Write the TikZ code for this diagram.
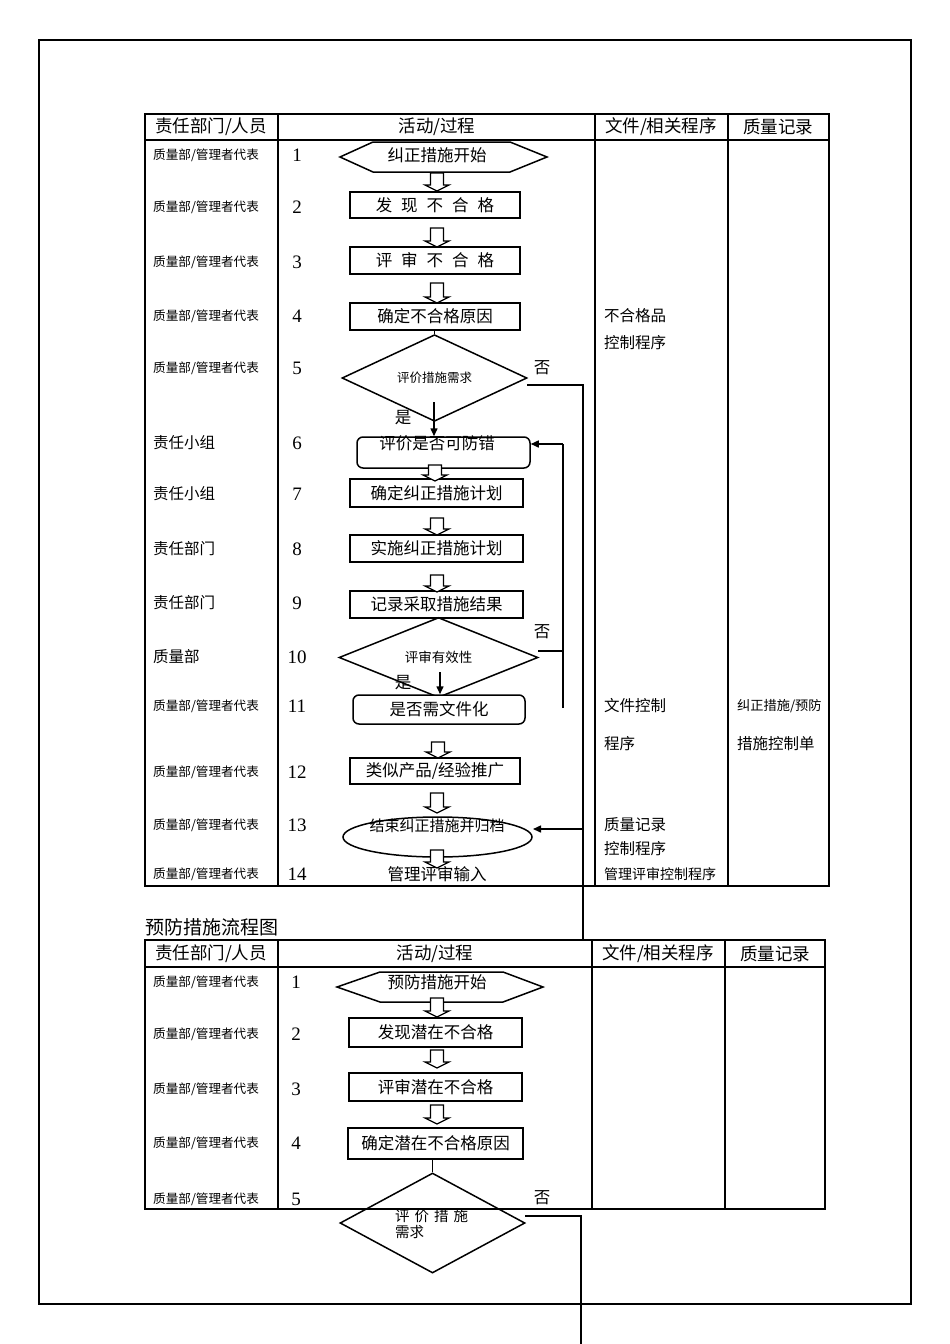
\documentclass[tikz,border=0pt]{standalone}
\usepackage{fontspec}
\newfontfamily\cjk{Noto Sans CJK SC}
\newfontfamily\numfont{Liberation Serif}
\usetikzlibrary{shapes.geometric,arrows.meta}
\newcommand\fsz[1]{\cjk\fontsize{#1}{#1}\selectfont}
\newcommand\barr[3]{\draw[line width=1.2pt,fill=white] (#1-6.5,#2) -- (#1+6.5,#2) -- (#1+6.5,#3-6) -- (#1+12,#3-6) -- (#1,#3) -- (#1-12,#3-6) -- (#1-6.5,#3-6) -- cycle;}
\begin{document}
\begin{tikzpicture}[x=1pt,y=-1pt,
  lw/.style={line width=1.5pt},
  tbl/.style={line width=1.6pt},
  proc/.style={draw,line width=1.5pt,inner sep=0,fill=white,font=\fsz{16.5}},
  rproc/.style={proc,rounded corners=6pt},
  dia/.style={draw,diamond,line width=1.5pt,inner sep=0,font=\fsz{12.5}},
  txt/.style={inner sep=0,font=\fsz{16.5}},
  hd/.style={inner sep=0,font=\fsz{17.5}},
  sm/.style={inner sep=0,anchor=west,font=\fsz{12.6}},
  lg/.style={inner sep=0,anchor=west,font=\fsz{15.5}},
  num/.style={inner sep=0,font=\numfont\fontsize{19}{19}\selectfont},
  arr/.style={lw,-{Triangle[length=8pt,width=7pt]}}]
\useasboundingbox (0,0) rectangle (950,1344);
\fill[white] (0,0) rectangle (950,1344);
\draw[tbl] (39,40) rectangle (911,1304);
% ---------- top table ----------
\draw[tbl] (145,114) rectangle (829,886);
\draw[tbl] (145,140) -- (829,140);
\foreach \x in {278,595,728} \draw[tbl] (\x,114) -- (\x,886);
\node[hd] (h1) at (211,127) {责任部门/人员};
\node[hd] (h2) at (437,127) {活动/过程};
\node[hd] (h3) at (661,127) {文件/相关程序};
\node[hd] (h4) at (778,127) {质量记录};
\foreach \y [count=\i] in {155,207,262,316,368} \node[sm] (La\i) at (153,\y) {质量部/管理者代表};
\foreach \y [count=\i] in {706,772,825,874} \node[sm] (Lb\i) at (153,\y) {质量部/管理者代表};
\node[lg] (Lc1) at (153,443) {责任小组};
\node[lg] (Lc2) at (153,494) {责任小组};
\node[lg] (Lc3) at (153,549) {责任部门};
\node[lg] (Lc4) at (153,603) {责任部门};
\node[lg] (Lc5) at (153,657) {质量部};
\foreach \y/\n in {155/1,207/2,262/3,316/4,368/5,443/6,494/7,549/8,603/9,657/10,706/11,772/12,825/13,874/14}
  \node[num] (N\n) at (297,\y) {\n};
% right columns
\node[lg] (R1) at (604,316) {不合格品};
\node[lg] (R2) at (604,343) {控制程序};
\node[lg] (R3) at (604,706) {文件控制};
\node[lg] (R4) at (604,744) {程序};
\node[inner sep=0,anchor=west,font=\fsz{13.2}] (R5) at (737,706) {纠正措施/预防};
\node[lg] (R6) at (737,744) {措施控制单};
\node[lg] (R7) at (604,825) {质量记录};
\node[lg] (R8) at (604,849) {控制程序};
\node[inner sep=0,anchor=west,font=\fsz{14}] (R9) at (604,874) {管理评审控制程序};
% flow
\draw[lw,fill=white] (340,157) -- (373,142) -- (510,142) -- (547,157) -- (510,172) -- (373,172) -- cycle;
\node[txt] (n1) at (437,155) {纠正措施开始};
\node[proc,minimum width=170pt,minimum height=26pt] (n2) at (435,205) {发\hspace{9pt}现\hspace{9pt}不\hspace{9pt}合\hspace{9pt}格};
\node[proc,minimum width=170pt,minimum height=27pt] (n3) at (435,260.5) {评\hspace{9pt}审\hspace{9pt}不\hspace{9pt}合\hspace{9pt}格};
\node[proc,minimum width=170pt,minimum height=27pt] (n4) at (435,316.5) {确定不合格原因};
\node[dia,minimum width=185pt,minimum height=72pt] (d5) at (434.5,378) {评价措施需求};
\node[rproc,minimum width=173pt,minimum height=31pt] (r6) at (443.5,452.5) {};
\node[txt] (t6) at (437,443) {评价是否可防错};
\node[proc,minimum width=173pt,minimum height=28pt] (n7) at (436.5,493) {确定纠正措施计划};
\node[proc,minimum width=173pt,minimum height=27pt] (n8) at (436.5,548.5) {实施纠正措施计划};
\node[proc,minimum width=173pt,minimum height=27pt] (n9) at (436.5,604.5) {记录采取措施结果};
\node[dia,minimum width=199pt,minimum height=55pt,font=\fsz{13.5}] (d10) at (438.5,657.5) {评审有效性};
\node[rproc,minimum width=172pt,minimum height=29pt] (r11) at (439,709.5) {是否需文件化};
\node[proc,minimum width=170pt,minimum height=26pt] (n12) at (435,771) {类似产品/经验推广};
\node[draw,ellipse,lw,minimum width=189pt,minimum height=40pt,inner sep=0] (e13) at (437.5,837) {};
\node[txt,font=\fsz{15}] (t13) at (437,826) {结束纠正措施并归档};
\barr{437}{173}{191}
\barr{437}{228}{247}
\barr{437}{283}{303}
\barr{435}{465}{481}
\barr{437}{518}{535}
\barr{437}{575}{592}
\barr{438}{742}{758}
\barr{437}{793}{813}
\barr{437}{850}{868}
\node[txt] (t14) at (437,874) {管理评审输入};
\draw[lw] (d5.north |- n4.south) -- (d5.north);
\draw[lw] (d10.north |- n9.south) -- (d10.north);
\coordinate (y5) at (434,402);
\draw[arr] (y5) -- (y5 |- r6.north);
\node[txt] (shi1) at (403,418) {是};
\coordinate (y10) at (440,672);
\draw[arr] (y10) -- (y10 |- r11.north);
\node[txt] (shi2) at (403,683) {是};
\node[txt] (fou1) at (542,368) {否};
\node[txt] (fou2) at (542,632) {否};
% loop back to 6
\coordinate (c1) at (563,651);
\coordinate (c2) at (563,708);
\coordinate (c3) at (563,444);
\draw[lw] (538,651) -- (c1);
\draw[lw] (c2) -- (c3);
\draw[arr] (c3) -- (r6.east |- c3);
% long line to 13 and lower table
\coordinate (j1) at (583,385);
\coordinate (j2) at (583,940);
\coordinate (j3) at (583,829);
\draw[lw] (527,385) -- (j1) -- (j2);
\draw[arr] (j3) -- (533,829);
% ---------- bottom table ----------
\node[inner sep=0,anchor=west,font=\fsz{19}] (title) at (145,927) {预防措施流程图};
\draw[tbl] (145,940) rectangle (825,1209);
\draw[tbl] (145,967) -- (825,967);
\foreach \x in {278,592,725} \draw[tbl] (\x,940) -- (\x,1209);
\node[hd] (g1) at (211,954) {责任部门/人员};
\node[hd] (g2) at (435,954) {活动/过程};
\node[hd] (g3) at (658,954) {文件/相关程序};
\node[hd] (g4) at (775,954) {质量记录};
\foreach \y [count=\i] in {982,1034,1089,1143,1199} {
  \node[sm] (M\i) at (153,\y) {质量部/管理者代表};
  \node[num] (P\i) at (296,\y) {\i};
}
\draw[lw,fill=white] (337,987) -- (380,972) -- (503,972) -- (543,987) -- (503,1002) -- (380,1002) -- cycle;
\node[txt] (m1) at (437,982) {预防措施开始};
\node[proc,minimum width=173pt,minimum height=29pt] (m2) at (435.5,1032.5) {发现潜在不合格};
\node[proc,minimum width=173pt,minimum height=28pt] (m3) at (435.5,1087) {评审潜在不合格};
\node[proc,minimum width=175pt,minimum height=31pt] (m4) at (435.5,1143.5) {确定潜在不合格原因};
\node[draw,diamond,lw,inner sep=0,minimum width=185pt,minimum height=100pt] (m5) at (432.5,1223) {};
\node[inner sep=0,anchor=north west,align=left,font=\fsz{14.5}] (t5) at (395,1209) {评\hspace{5pt}价\hspace{5pt}措\hspace{5pt}施\\[2pt]需求};
\barr{437}{998}{1017}
\barr{437}{1050}{1068}
\barr{437}{1105}{1124}
\draw[lw] (m5.north |- m4.south) -- (m5.north);
\node[txt] (fou3) at (542,1198) {否};
\coordinate (k1) at (581,1216);
\coordinate (k2) at (581,1344);
\draw[lw] (525,1216) -- (k1) -- (k2);
\end{tikzpicture}
\end{document}
